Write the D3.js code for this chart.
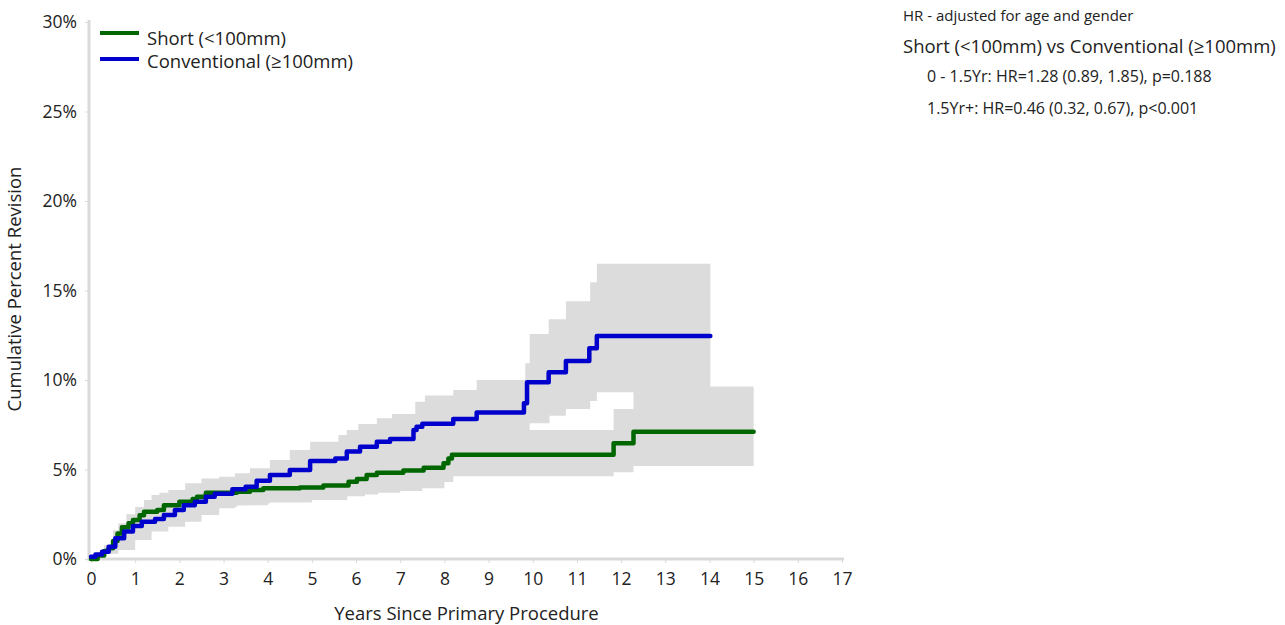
<!DOCTYPE html>
<html>
<head>
<meta charset="utf-8">
<script src="https://cdn.jsdelivr.net/npm/d3@7"></script>
<style>
  html, body { margin: 0; padding: 0; background: #fff; }
  svg { display: block; font-family: "Open Sans", "Noto Sans", sans-serif; }
</style>
</head>
<body>
<svg id="chart" width="1285" height="625"></svg>
<script>
// ---------------- DATA ----------------
const xTicks = [0,1,2,3,4,5,6,7,8,9,10,11,12,13,14,15,16,17];
const yTicks = [0,5,10,15,20,25,30];

// Short (<100mm) - cumulative percent revision (step function)
const shortTimes  = [0,0.15,0.3,0.4,0.5,0.6,0.7,0.85,0.95,1.1,1.2,1.5,1.65,2.0,2.3,2.4,2.6,3.3,3.6,3.9,4.73,5.26,5.83,6.02,6.24,6.47,7.07,7.53,7.98,8.09,8.17,11.83,12.28,15.0];
const shortValues = [0,0.2,0.45,0.6,1.0,1.43,1.77,2.0,2.18,2.45,2.64,2.74,3.0,3.2,3.35,3.48,3.7,3.76,3.85,3.95,4.0,4.1,4.32,4.47,4.69,4.82,4.95,5.1,5.35,5.62,5.83,6.46,7.11,7.11];
const shortCITimes = [0,0.3,0.5,0.62,0.8,1.0,1.2,1.37,1.55,1.75,2.13,2.5,2.9,3.3,4.0,5.0,5.8,6.2,6.5,7.0,7.5,8.0,8.2,11.83,12.28,15.0];
const shortLower   = [0,0.3,0.5,0.7,0.9,1.1,1.4,1.6,1.8,2.0,2.2,2.5,2.9,3.0,3.15,3.3,3.5,3.6,3.7,3.8,3.95,4.3,4.62,4.85,5.2,5.2];
const shortUpper   = [0.2,0.8,1.6,2.0,2.5,2.9,3.3,3.58,3.7,3.85,4.23,4.5,4.6,4.7,4.8,4.9,5.2,5.6,6.0,6.2,6.5,6.8,7.2,8.38,9.63,9.63];

// Conventional (>=100mm)
const convTimes  = [0,0.1,0.25,0.4,0.55,0.75,0.95,1.15,1.45,1.65,1.9,2.1,2.35,2.6,2.8,3.2,3.5,3.75,4.05,4.5,4.96,5.53,5.79,6.09,6.47,6.77,7.3,7.37,7.5,8.2,8.73,9.8,9.87,10.36,10.75,11.28,11.45,14.02];
const convValues = [0.13,0.25,0.4,0.69,1.16,1.53,1.84,2.08,2.23,2.46,2.74,3.0,3.2,3.48,3.65,3.89,4.04,4.37,4.69,4.97,5.47,5.62,6.0,6.27,6.55,6.7,7.2,7.39,7.56,7.82,8.19,8.7,9.87,10.43,11.06,11.77,12.46,12.46];
const convCITimes = [0,0.3,0.62,1.0,1.37,1.75,2.13,2.5,2.9,3.26,3.6,4.05,4.5,4.96,5.6,5.79,6.05,6.47,6.81,7.34,7.56,8.2,8.73,9.83,9.93,10.36,10.38,10.75,11.3,11.45,14.02];
const convLower   = [0,0.3,0.5,1.06,1.53,1.8,2.08,2.46,2.83,3.0,3.1,3.4,3.8,4.2,4.5,4.8,5.0,5.4,5.7,6.0,6.3,6.6,6.95,7.1,7.58,7.58,8.0,8.38,8.83,9.31,9.31];
const convUpper   = [0.2,0.7,1.3,2.3,2.9,3.3,3.7,4.1,4.5,4.79,5.07,5.53,6.09,6.55,6.93,7.2,7.54,7.86,8.1,8.79,9.13,9.44,10.0,10.93,12.57,13.4,13.4,14.4,15.46,16.5,16.5];

const seriesNames  = ["Short (<100mm)", "Conventional (\u2265100mm)"];
const seriesColors = ["#006600", "#0000cc"];

const xLabel = "Years Since Primary Procedure";
const yLabel = "Cumulative Percent Revision";
const noteLines = [
  "HR - adjusted for age and gender",
  "Short (<100mm) vs Conventional (\u2265100mm)",
  "0 - 1.5Yr: HR=1.28 (0.89, 1.85), p=0.188",
  "1.5Yr+: HR=0.46 (0.32, 0.67), p<0.001"
];

// ---------------- CHART ----------------
const svg = d3.select("#chart");
const x = d3.scaleLinear().domain([0, 17]).range([91, 842]);
const y = d3.scaleLinear().domain([0, 30]).range([559, 22]);

const zipCI = (t, lo, hi) => t.map((d, i) => ({t: d, lo: lo[i], hi: hi[i]}));
const zip = (t, v) => t.map((d, i) => ({t: d, v: v[i]}));

const area = d3.area().curve(d3.curveStepAfter)
  .x(d => x(d.t)).y0(d => y(d.lo)).y1(d => y(d.hi));
const line = d3.line().curve(d3.curveStepAfter)
  .x(d => x(d.t)).y(d => y(d.v));

// CI bands
svg.append("path").datum(zipCI(shortCITimes, shortLower, shortUpper))
  .attr("d", area).attr("fill", "#dcdcdc");
svg.append("path").datum(zipCI(convCITimes, convLower, convUpper))
  .attr("d", area).attr("fill", "#dcdcdc");

// Axes
const gx = svg.append("g").attr("transform", `translate(0,${y(0)})`)
  .call(d3.axisBottom(x).tickValues(xTicks).tickSize(4).tickSizeOuter(0).tickPadding(10));
gx.select(".domain").attr("stroke", "#d9d9d9").attr("stroke-width", 3)
  .attr("d", `M${x(0)-3},0H${x(17)+2}`);
gx.selectAll(".tick line").attr("stroke", "#d9d9d9").attr("stroke-width", 1);
gx.selectAll(".tick text").attr("fill", "#222").attr("font-size", 17.5)
  .attr("font-family", "Open Sans");

const gy = svg.append("g").attr("transform", `translate(${x(0)-2},0)`)
  .call(d3.axisLeft(y).tickValues(yTicks).tickFormat(d => d + "%").tickSize(4).tickSizeOuter(0).tickPadding(8));
gy.select(".domain").attr("stroke", "#d9d9d9").attr("stroke-width", 3)
  .attr("d", `M0,${y(30)-2}V${y(0)+2}`);
gy.selectAll(".tick line").attr("stroke", "#d9d9d9").attr("stroke-width", 1);
gy.selectAll(".tick text").attr("fill", "#222").attr("font-size", 17.5)
  .attr("font-family", "Open Sans");

// Series lines
svg.append("path").datum(zip(shortTimes, shortValues)).attr("d", line)
  .attr("fill", "none").attr("stroke", seriesColors[0]).attr("stroke-width", 4.5)
  .attr("stroke-linejoin", "round").attr("stroke-linecap", "round");
svg.append("path").datum(zip(convTimes, convValues)).attr("d", line)
  .attr("fill", "none").attr("stroke", seriesColors[1]).attr("stroke-width", 4.5)
  .attr("stroke-linejoin", "round").attr("stroke-linecap", "round");

// Axis titles
svg.append("text").attr("x", (x(0)+x(17))/2).attr("y", 620)
  .attr("text-anchor", "middle").attr("font-size", 18.5).attr("fill", "#222").text(xLabel);
svg.append("text").attr("transform", `translate(21,289) rotate(-90)`)
  .attr("text-anchor", "middle").attr("font-size", 18.5).attr("fill", "#222").text(yLabel);

// Legend
const leg = svg.append("g");
const legLineY = [33, 59];
const legTextY = [45, 68];
seriesNames.forEach((n, i) => {
  leg.append("line").attr("x1", 100).attr("x2", 139).attr("y1", legLineY[i]).attr("y2", legLineY[i])
    .attr("stroke", seriesColors[i]).attr("stroke-width", 4);
  leg.append("text").attr("x", 147).attr("y", legTextY[i]).attr("font-size", 18.5)
    .attr("fill", "#222").text(n);
});

// Annotation
const noteX = [903, 903, 927, 927];
const noteY = [21, 53, 82, 114];
const noteSize = [15, 18.5, 16, 16];
noteLines.forEach((t, i) => {
  svg.append("text").attr("x", noteX[i]).attr("y", noteY[i]).attr("font-size", noteSize[i])
    .attr("fill", "#222").text(t);
});
</script>
</body>
</html>
